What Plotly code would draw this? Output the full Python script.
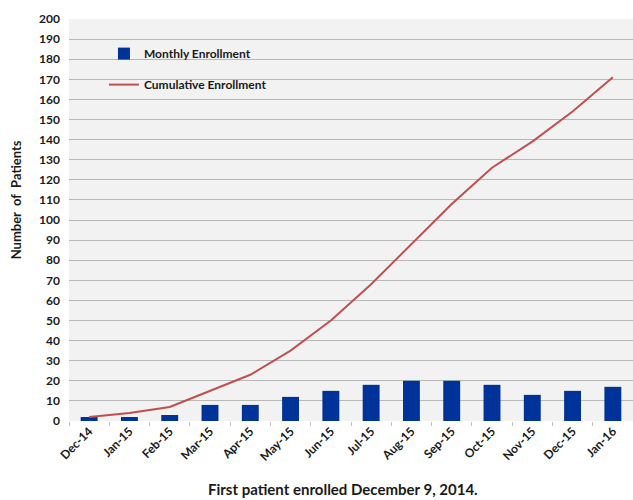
import plotly.graph_objects as go

months = ["Dec-14", "Jan-15", "Feb-15", "Mar-15", "Apr-15", "May-15", "Jun-15",
          "Jul-15", "Aug-15", "Sep-15", "Oct-15", "Nov-15", "Dec-15", "Jan-16"]
monthly = [2, 2, 3, 8, 8, 12, 15, 18, 20, 20, 18, 13, 15, 17]
cumulative = [2, 4, 7, 15, 23, 35, 50, 68, 88, 108, 126, 139, 154, 171]
y_ticks = list(range(0, 201, 10))

FONT = "Lato"

fig = go.Figure()
fig.add_trace(go.Bar(
    x=months, y=monthly, name="Monthly Enrollment",
    marker=dict(color="#003399", line=dict(width=0)),
    width=0.42, legendgroup="a",
))
fig.add_trace(go.Scatter(
    x=months, y=cumulative, name="Cumulative Enrollment", mode="lines",
    line=dict(color="#C0504D", width=2), legendgroup="b",
))

fig.update_layout(
    width=633, height=500,
    margin=dict(l=69, r=0, t=19, b=79),
    paper_bgcolor="white", plot_bgcolor="#F2F2F2",
    font=dict(family=FONT, size=12, color="#1a1a1a"),
    showlegend=True,
    legend=dict(
        x=0.062, y=0.95, xanchor="left", yanchor="top",
        bgcolor="rgba(0,0,0,0)", tracegroupgap=12,
        traceorder="grouped",
        font=dict(family=FONT, size=12, color="#1a1a1a", weight="bold"),
    ),
    xaxis=dict(
        type="category", range=[-0.5, 13.5], tickangle=-45,
        tickfont=dict(family=FONT, size=12, weight="bold"),
        showgrid=False, ticks="outside", tickson="boundaries",
        ticklen=4, tickcolor="#BFBFBF", showline=False, zeroline=False,
    ),
    yaxis=dict(
        range=[0, 200], tickvals=y_ticks,
        tickfont=dict(family=FONT, size=12, weight="bold"),
        showgrid=True, gridcolor="#B8B8B8", gridwidth=1,
        zeroline=False, showline=False, ticks="", ticklabelstandoff=8,
    ),
    annotations=[
        dict(text="Number  of  Patients", textangle=-90, xref="paper", yref="paper",
             x=-0.095, y=0.55, xanchor="center", yanchor="middle", showarrow=False,
             font=dict(family=FONT, size=13, weight="bold")),
        dict(text="First patient enrolled December 9, 2014.", xref="paper", yref="paper",
             x=0.486, y=-0.17, xanchor="center", yanchor="middle", showarrow=False,
             font=dict(family=FONT, size=15, weight="bold")),
    ],
)

fig.write_html("out.html")
